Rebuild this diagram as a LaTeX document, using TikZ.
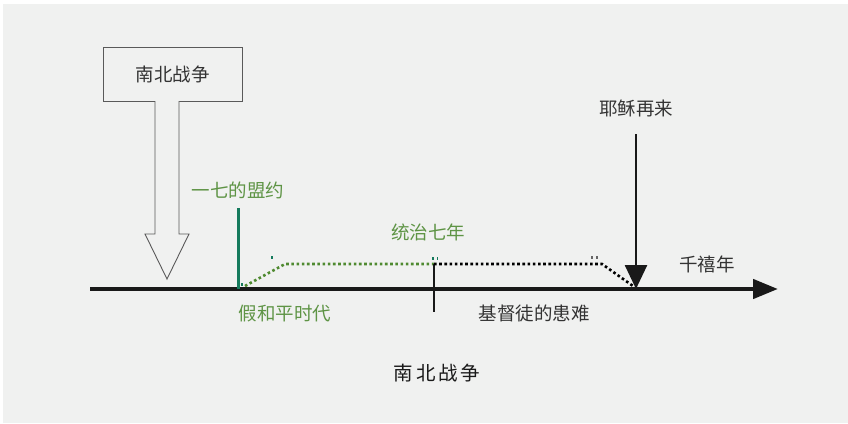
\documentclass[tikz,border=0pt]{standalone}
\usepackage{fontspec}
\setmainfont{Noto Sans CJK SC}
\usetikzlibrary{arrows.meta}
\definecolor{bg}{HTML}{F0F1F0}
\definecolor{txtgray}{HTML}{333333}
\definecolor{gtext}{HTML}{5E9445}
\definecolor{gline}{HTML}{157A5C}
\definecolor{gdot}{HTML}{4F8A30}
\tikzset{
  lbl/.style={font=\fontsize{18.5}{20}\selectfont, text=txtgray, inner sep=0pt},
  glbl/.style={lbl, text=gtext},
  dotline/.style={line width=2.6pt, dash pattern=on 2.6pt off 2.6pt},
  speck/.style={fill=gline, minimum width=1.2pt, minimum height=3pt, inner sep=0pt, draw=none},
}
\begin{document}
\begin{tikzpicture}[x=1pt,y=-1pt]
\useasboundingbox (0,0) rectangle (848,423);
\fill[white] (0,0) rectangle (848,423);
\fill[bg] (3,4) rectangle (848,423);

% top box and hollow arrow
\node[draw=black!65, line width=1pt, minimum width=139pt, minimum height=54pt, inner sep=0pt, lbl] (war) at (172.5,74) {南北战争};
\coordinate (hatip) at (167,279);
\draw[black!65, line width=0.9pt, fill=bg] (155,101) -- (155,234) -- (145,234) -- (hatip) -- (189,234) -- (179,234) -- (179,101);

% timeline
\coordinate (tl0) at (90,289);
\coordinate (tl1) at (778,289);
\draw[line width=4.5pt, black!90, -{Triangle[length=25pt,width=19pt]}] (tl0) -- (tl1);

% green covenant line
\coordinate (cov0) at (238,208);
\coordinate (cov1) at (238,289);
\draw[gline, line width=3pt] (cov0) -- (cov1);
\node[glbl] (covlbl) at (238,190) {一七的盟约};

% green dotted
\coordinate (g0) at (245,286);
\coordinate (g1) at (285,264);
\coordinate (g2) at (434,264);
\draw[gdot, dotline] (g0) -- (g1) -- (g2);
\node[glbl] (rule) at (428,232) {统治七年};
\node[glbl] (peace) at (285,314) {假和平时代};

% black tick and dotted
\coordinate (t0) at (434,264);
\coordinate (t1) at (434,312);
\draw[black!90, line width=2pt] (t0) -- (t1);
\coordinate (b1) at (602,264);
\coordinate (b2) at (633,286);
\draw[black, dotline] (t0) -- (b1) -- (b2);
\node[lbl] (trib) at (534,313) {基督徒的患难};

% Jesus return arrow
\node[lbl] (jesus) at (636,108) {耶稣再来};
\coordinate (j0) at (636,134);
\coordinate (j1) at (636,289);
\draw[black!90, line width=2.6pt, -{Triangle[length=24pt,width=22pt]}] (j0) -- (j1);
\node[lbl] (mill) at (707,264) {千禧年};

% specks
\node[speck] (s1) at (272,257) {};
\node[speck] (s2) at (242,284) {};
\node[speck] (s3) at (433,258) {};
\node[speck] (s4) at (437.5,258) {};
\node[speck, fill=black!60] (s5) at (592,257) {};
\node[speck, fill=black!60] (s6) at (597,257) {};

% caption
\node[lbl, text=black!90, font=\fontsize{19.5}{21}\selectfont\addfontfeatures{LetterSpace=14}] (cap) at (437,373) {南北战争};
\end{tikzpicture}
\end{document}
